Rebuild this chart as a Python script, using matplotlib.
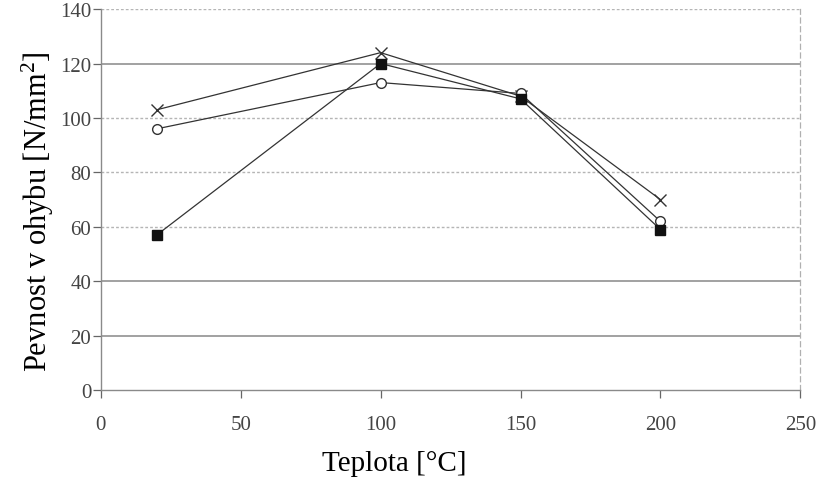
import matplotlib.pyplot as plt

# Data
teplota = [20, 100, 150, 200]
serie_x = [103, 124, 108, 70]
serie_o = [96, 113, 109, 62]
serie_sq = [57, 120, 107, 59]

x_ticks = [0, 50, 100, 150, 200, 250]
y_ticks = [0, 20, 40, 60, 80, 100, 120, 140]
solid_grid = [20, 40, 120]
dotted_grid = [60, 80, 100, 140]

plt.rcParams['font.family'] = ['Liberation Serif', 'DejaVu Serif']
plt.rcParams['mathtext.fontset'] = 'custom'
plt.rcParams['mathtext.rm'] = 'Liberation Serif'
plt.rcParams['mathtext.it'] = 'Liberation Serif:italic'

fig = plt.figure(figsize=(8.2, 4.81), dpi=100)
ax = fig.add_axes([0.123, 0.187, 0.853, 0.792])

# Grid lines: some solid, some dotted, as in the original
for y in solid_grid:
    ax.axhline(y, color='#9a9a9a', lw=1.3, zorder=0)
for y in dotted_grid:
    ax.axhline(y, color='#b5b5b5', lw=1.0, ls=(0, (2, 1.5)), zorder=0)

line_kw = dict(color='#333333', lw=0.9)
ax.plot(teplota, serie_x, marker='x', ms=8, mew=1.0, mec='#333333', **line_kw)
ax.plot(teplota, serie_o, marker='o', ms=7, mfc='white', mec='#333333', mew=1.0, **line_kw)
ax.plot(teplota, serie_sq, marker='s', ms=7, mfc='#111111', mec='#111111', **line_kw)

ax.set_xlim(0, 250)
ax.set_ylim(0, 140)
ax.set_xticks(x_ticks)
ax.set_yticks(y_ticks)
ax.tick_params(axis='both', labelsize=15, colors='#666666', length=6, width=0.9,
               labelcolor='#444444')
ax.tick_params(axis='x', pad=12)
ax.tick_params(axis='y', pad=1)

for side in ['left', 'bottom']:
    ax.spines[side].set_color('#8a8a8a')
    ax.spines[side].set_linewidth(1.0)
ax.spines['top'].set_visible(False)
ax.spines['right'].set_color('#b0b0b0')
ax.spines['right'].set_linestyle((0, (4, 3)))
ax.spines['right'].set_linewidth(0.9)

ax.set_xlabel('Teplota [°C]', fontsize=21)
ax.xaxis.set_label_coords(0.419, -0.158)
ax.set_ylabel('Pevnost v ohybu [N/mm$^{2}$]', fontsize=22)
ax.yaxis.set_label_coords(-0.064, 0.47)

fig.savefig('out.png', dpi=100, facecolor='white')
